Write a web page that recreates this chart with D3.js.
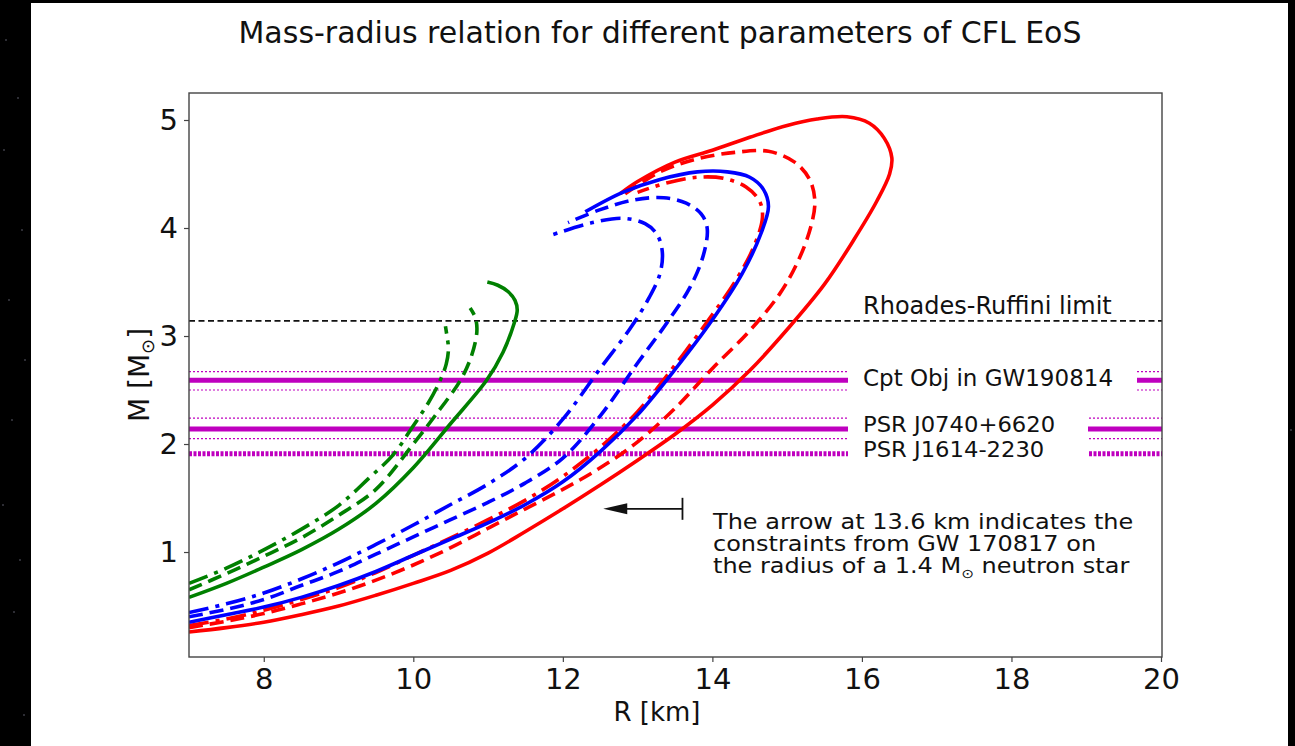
<!DOCTYPE html>
<html>
<head>
<meta charset="utf-8">
<script src="https://cdn.jsdelivr.net/npm/d3@7"></script>
<style>
  html, body { margin: 0; padding: 0; background: #000; }
  svg { display: block; }
  text { font-family: "DejaVu Sans", sans-serif; fill: #111; }
</style>
</head>
<body>
<svg id="chart" width="1295" height="746"></svg>
<script>
// Mass–radius curves (R in km, M in solar masses), each traced from the
// low-mass end up the stable branch, around the maximum and back.
const greenSolidR = [7.0, 7.5, 8.0, 8.5, 9.0, 9.5, 10.0, 10.5, 10.98, 11.2, 11.35, 11.39, 11.36, 11.27, 11.13, 10.99];
const greenSolidM = [0.58, 0.71, 0.86, 1.02, 1.21, 1.45, 1.78, 2.19, 2.59, 2.85, 3.12, 3.24, 3.33, 3.41, 3.47, 3.50];
const greenDashR  = [7.0, 7.5, 8.0, 8.5, 9.0, 9.5, 10.0, 10.3, 10.63, 10.78, 10.85, 10.83, 10.76];
const greenDashM  = [0.65, 0.80, 0.96, 1.13, 1.34, 1.58, 2.0, 2.27, 2.59, 2.82, 3.04, 3.17, 3.26];
const greenDDR    = [7.0, 7.5, 8.0, 8.5, 9.0, 9.4, 9.73, 10.0, 10.2, 10.36, 10.44, 10.47, 10.45, 10.43];
const greenDDM    = [0.71, 0.85, 1.02, 1.21, 1.43, 1.68, 1.90, 2.17, 2.38, 2.59, 2.74, 2.88, 3.00, 3.09];

const blueSolidR  = [7.0, 7.5, 8.0, 8.5, 9.0, 9.5, 10.0, 10.5, 11.0, 11.5, 12.0, 12.5, 13.0, 13.5, 14.0, 14.4, 14.65, 14.75, 14.68, 14.5, 14.2, 13.8, 13.3, 12.8, 12.3];
const blueSolidM  = [0.35, 0.42, 0.49, 0.58, 0.69, 0.82, 0.97, 1.12, 1.27, 1.44, 1.65, 1.93, 2.27, 2.69, 3.15, 3.58, 3.95, 4.20, 4.36, 4.47, 4.52, 4.52, 4.45, 4.33, 4.15];
const blueDashR   = [7.0, 7.5, 8.0, 8.5, 9.0, 9.5, 10.0, 10.5, 11.0, 11.5, 12.0, 12.5, 13.0, 13.4, 13.7, 13.88, 13.93, 13.85, 13.65, 13.35, 12.95, 12.5, 12.07];
const blueDashM   = [0.40, 0.47, 0.56, 0.69, 0.82, 0.98, 1.14, 1.30, 1.46, 1.64, 1.87, 2.26, 2.75, 3.13, 3.45, 3.75, 4.00, 4.13, 4.23, 4.28, 4.26, 4.17, 4.05];
const blueDDR     = [7.0, 7.5, 8.0, 8.5, 9.0, 9.5, 10.0, 10.5, 11.0, 11.5, 12.0, 12.5, 12.9, 13.15, 13.3, 13.33, 13.26, 13.1, 12.8, 12.4, 11.87];
const blueDDM     = [0.44, 0.52, 0.62, 0.75, 0.90, 1.07, 1.25, 1.44, 1.63, 1.87, 2.23, 2.70, 3.07, 3.35, 3.58, 3.78, 3.94, 4.04, 4.09, 4.05, 3.94];

const redSolidR   = [7.0, 7.5, 8.0, 8.5, 9.0, 9.5, 10.0, 10.5, 11.0, 11.5, 12.0, 12.5, 13.0, 13.5, 14.0, 14.5, 15.0, 15.5, 15.9, 16.2, 16.37, 16.4, 16.3, 16.1, 15.8, 15.4, 15.0, 14.5, 14.0, 13.5, 13.0, 12.77];
const redSolidM   = [0.26, 0.30, 0.35, 0.42, 0.50, 0.60, 0.71, 0.83, 0.99, 1.19, 1.40, 1.62, 1.85, 2.09, 2.36, 2.68, 3.06, 3.48, 3.90, 4.25, 4.50, 4.65, 4.83, 4.97, 5.03, 5.01, 4.95, 4.84, 4.72, 4.61, 4.43, 4.32];
const redDashR    = [7.0, 7.5, 8.0, 8.5, 9.0, 9.5, 10.0, 10.5, 11.0, 11.5, 12.0, 12.5, 13.0, 13.5, 14.0, 14.5, 14.9, 15.15, 15.32, 15.37, 15.3, 15.1, 14.75, 14.3, 13.8, 13.3, 12.8];
const redDashM    = [0.30, 0.36, 0.43, 0.52, 0.62, 0.74, 0.88, 1.04, 1.22, 1.40, 1.58, 1.78, 2.02, 2.33, 2.70, 3.05, 3.39, 3.70, 4.02, 4.25, 4.45, 4.61, 4.71, 4.70, 4.64, 4.52, 4.30];
const redDDR      = [7.0, 7.5, 8.0, 8.5, 9.0, 9.5, 10.0, 10.5, 11.0, 11.5, 12.0, 12.5, 13.0, 13.5, 13.95, 14.3, 14.55, 14.67, 14.63, 14.45, 14.15, 13.8, 13.4, 13.0];
const redDDM      = [0.32, 0.38, 0.46, 0.56, 0.67, 0.81, 0.97, 1.13, 1.30, 1.48, 1.70, 1.97, 2.30, 2.73, 3.15, 3.50, 3.82, 4.10, 4.25, 4.38, 4.46, 4.47, 4.42, 4.33];

// Observational mass limits: [centre, upper, lower]
const rhoadesRuffini = 3.14;
const gw190814  = [2.59, 2.67, 2.50];
const psrJ0740  = [2.14, 2.24, 2.05];
const psrJ1614  = [1.91];
const gw170817R = 13.6;
const gw170817M = 1.4;

const xTicks = [8, 10, 12, 14, 16, 18, 20];
const yTicks = [1, 2, 3, 4, 5];

const svg = d3.select("#chart");

// page panel
svg.append("rect").attr("x", 0).attr("y", 0).attr("width", 1295).attr("height", 746).attr("fill", "#000");
const stars = [[6, 40], [18, 98], [4, 150], [22, 230], [9, 300], [25, 360], [12, 420], [3, 505], [20, 560], [14, 612], [24, 715], [1280, 60], [1291, 430], [1285, 650]];
svg.selectAll("circle.star").data(stars).join("circle").attr("class", "star")
  .attr("cx", d => d[0]).attr("cy", d => d[1]).attr("r", 0.8).attr("fill", "#667");
svg.append("rect").attr("x", 31).attr("y", 3).attr("width", 1257).attr("height", 743).attr("fill", "#fff");

const plotL = 189, plotR = 1162, plotT = 93, plotB = 657;
const x = d3.scaleLinear().domain([7, 20]).range([189, 1161]);
const y = d3.scaleLinear().domain([0.028, 5.25]).range([657, 93]);

const g = svg.append("g");
g.append("defs").append("clipPath").attr("id", "plotClip")
  .append("rect").attr("x", plotL).attr("y", plotT).attr("width", plotR - plotL).attr("height", plotB - plotT);

const plot = g.append("g").attr("clip-path", "url(#plotClip)");

// reference horizontal lines
const hline = (m, opts) => plot.append("line")
  .attr("x1", plotL).attr("x2", plotR).attr("y1", y(m)).attr("y2", y(m))
  .attr("stroke", opts.color).attr("stroke-width", opts.width)
  .attr("stroke-dasharray", opts.dash || null);

const magenta = "#bf00bf";
hline(rhoadesRuffini, { color: "#111", width: 1.6, dash: "6,3.5" });
[gw190814, psrJ0740].forEach(b => {
  hline(b[0], { color: magenta, width: 5 });
  hline(b[1], { color: magenta, width: 1.1, dash: "2,2" });
  hline(b[2], { color: magenta, width: 1.1, dash: "2,2" });
});
hline(psrJ1614[0], { color: magenta, width: 5, dash: "3,1.5" });

// curves
const curves = [
  { r: greenSolidR, m: greenSolidM, color: "#008000", dash: null },
  { r: greenDashR,  m: greenDashM,  color: "#008000", dash: "14,7" },
  { r: greenDDR,    m: greenDDM,    color: "#008000", dash: "20,7,4,7" },
  { r: redSolidR,   m: redSolidM,   color: "#ff0000", dash: null },
  { r: redDashR,    m: redDashM,    color: "#ff0000", dash: "14,7" },
  { r: redDDR,      m: redDDM,      color: "#ff0000", dash: "20,7,4,7" },
  { r: blueSolidR,  m: blueSolidM,  color: "#0000ff", dash: null },
  { r: blueDashR,   m: blueDashM,   color: "#0000ff", dash: "14,7" },
  { r: blueDDR,     m: blueDDM,     color: "#0000ff", dash: "20,7,4,7" }
];
const line = d3.line().x(d => x(d[0])).y(d => y(d[1])).curve(d3.curveCatmullRom.alpha(0.5));
curves.forEach(c => {
  plot.append("path")
    .attr("d", line(d3.zip(c.r, c.m)))
    .attr("fill", "none").attr("stroke", c.color).attr("stroke-width", 3.6)
    .attr("stroke-dasharray", c.dash).attr("stroke-linejoin", "round");
});

// white boxes behind the limit labels, then the labels
plot.append("rect").attr("x", 848).attr("y", 364).attr("width", 289).attr("height", 31).attr("fill", "#fff");
plot.append("rect").attr("x", 848).attr("y", 412).attr("width", 240).attr("height", 50).attr("fill", "#fff");
const label = (txt, yBase, size, sx) =>
  g.append("text").attr("transform", `translate(863,${yBase}) scale(${sx},1)`).attr("font-size", size).text(txt);
label("Rhoades-Ruffini limit", 314, 24, 1);
label("Cpt Obj in GW190814", 386, 23, 1);
label("PSR J0740+6620", 432, 21, 1.08);
label("PSR J1614-2230", 456.5, 21, 1.08);

// arrow for the GW170817 radius constraint
const ay = y(gw170817M);
g.append("line").attr("x1", x(gw170817R)).attr("x2", x(12.54) + 14).attr("y1", ay).attr("y2", ay)
  .attr("stroke", "#111").attr("stroke-width", 1.8);
g.append("line").attr("x1", x(gw170817R)).attr("x2", x(gw170817R)).attr("y1", ay - 11).attr("y2", ay + 11)
  .attr("stroke", "#111").attr("stroke-width", 1.8);
g.append("path")
  .attr("d", `M${x(12.54)},${ay} L${x(12.54) + 24},${ay - 5.5} L${x(12.54) + 24},${ay + 5.5} Z`)
  .attr("fill", "#111");

const noteLines = ["The arrow at 13.6 km indicates the", "constraints from GW 170817 on"];
const noteG = g.append("g").attr("transform", "translate(713,0) scale(1.17,1)");
noteLines.forEach((t, i) => {
  noteG.append("text").attr("x", 0).attr("y", 529 + i * 22).attr("font-size", 20.5).text(t);
});
const n3 = noteG.append("text").attr("x", 0).attr("y", 573).attr("font-size", 20.5);
n3.append("tspan").text("the radius of a 1.4 M");
n3.append("tspan").attr("font-size", 13).attr("dy", 5).text("⊙");
n3.append("tspan").attr("dy", -5).text(" neutron star");

// frame
g.append("rect").attr("x", plotL).attr("y", plotT).attr("width", plotR - plotL).attr("height", plotB - plotT)
  .attr("fill", "none").attr("stroke", "#444").attr("stroke-width", 1.4);

// axes
const xAxis = g.append("g").attr("transform", `translate(0,${plotB})`)
  .call(d3.axisBottom(x).tickValues(xTicks).tickSize(5).tickPadding(6).tickFormat(d3.format("d")));
const yAxis = g.append("g").attr("transform", `translate(${plotL},0)`)
  .call(d3.axisLeft(y).tickValues(yTicks).tickSize(5).tickPadding(6).tickFormat(d3.format("d")));
[xAxis, yAxis].forEach(a => {
  a.select(".domain").remove();
  a.selectAll(".tick line").attr("stroke", "#444").attr("stroke-width", 1.2);
  a.selectAll(".tick text").attr("font-size", 29).attr("fill", "#111").attr("font-family", "DejaVu Sans");
});

// axis titles and chart title
g.append("text").attr("x", 657).attr("y", 721).attr("text-anchor", "middle").attr("font-size", 26).text("R [km]");
const yl = g.append("text").attr("transform", "translate(149,375) rotate(-90)").attr("text-anchor", "middle").attr("font-size", 28);
yl.append("tspan").text("M [M");
yl.append("tspan").attr("font-size", 18).attr("dy", 5).text("⊙");
yl.append("tspan").attr("dy", -5).text("]");
g.append("text").attr("x", 660).attr("y", 43).attr("text-anchor", "middle").attr("font-size", 30)
  .text("Mass-radius relation for different parameters of CFL EoS");
</script>
</body>
</html>
